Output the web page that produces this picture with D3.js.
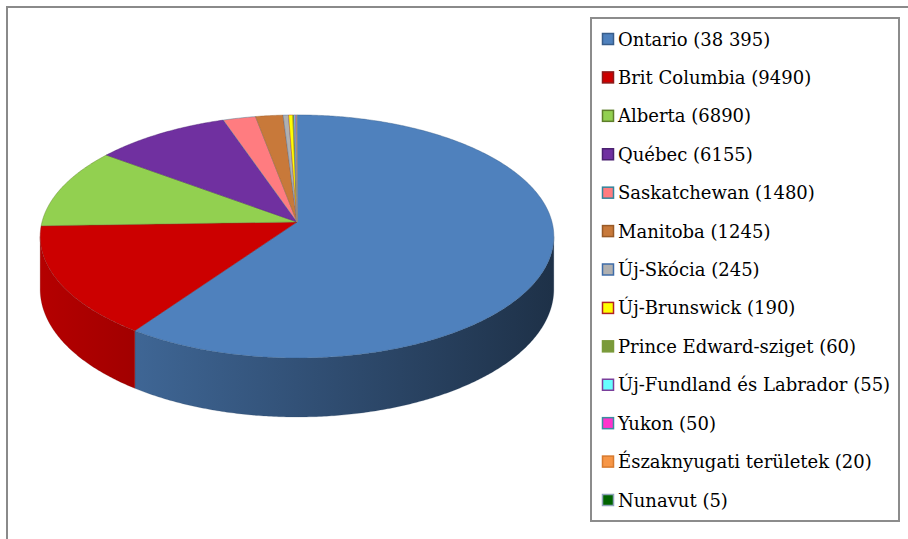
<!DOCTYPE html>
<html>
<head>
<meta charset="utf-8">
<script src="https://cdn.jsdelivr.net/npm/d3@7"></script>
<style>
  html, body { margin: 0; padding: 0; background: #fff; }
  svg { display: block; }
</style>
</head>
<body>
<div id="chart"></div>
<script>
(function () {

    // ── data ────────────────────────────────────────────────────────
    var PROVINCES = [
        "Ontario", "Brit Columbia", "Alberta", "Québec", "Saskatchewan",
        "Manitoba", "Új-Skócia", "Új-Brunswick", "Prince Edward-sziget",
        "Új-Fundland és Labrador", "Yukon", "Északnyugati területek", "Nunavut"
    ];
    var VALUES = [38395, 9490, 6890, 6155, 1480, 1245, 245, 190, 60, 55, 50, 20, 5];
    var FILLS = [
        "#4f81bd", "#cc0000", "#92d050", "#7030a0", "#ff7c80",
        "#c8793a", "#b0b0b0", "#ffff00", "#7a9a3a",
        "#66ffff", "#ff33cc", "#f79646", "#006400"
    ];
    var BORDERS = [
        "#385d8a", "#8b1a1a", "#5e7e2a", "#4b2170", "#31859c",
        "#985a27", "#3f6ca8", "#b22222", "#7a9a3a",
        "#7a3f9b", "#3b8da0", "#d77a2e", "#8fa3ba"
    ];

    var W = 908, H = 539;

    var svg = d3.select("#chart").append("svg")
        .attr("width", W).attr("height", H);

    var defs = svg.append("defs");

    // outer chart frame (runs off the right/bottom edges)
    svg.append("rect")
        .attr("x", 7).attr("y", 7)
        .attr("width", W + 20).attr("height", H + 20)
        .attr("fill", "#fff")
        .attr("stroke", "#8a8a8a").attr("stroke-width", 2);

    /* ── pie geometry (perspective tilted disc) ───────────────────── */
    var cx = 297, cy = 222;
    var Rx = 255, Ry = 119.8;
    var persp = 0.119;      // perspective strength
    var depth = 52;         // thickness of the disc

    function proj(theta, h) {
        var u = Math.sin(theta), v = -Math.cos(theta);
        var f = 1 / (1 - persp * v);
        return [cx + Rx * u * f, cy + (Ry * v + depth * h) * f];
    }

    function arcPoints(a0, a1, h) {
        var n = Math.max(2, Math.ceil((a1 - a0) / (Math.PI / 360)));
        var pts = [];
        for (var i = 0; i <= n; i++) pts.push(proj(a0 + (a1 - a0) * i / n, h));
        return pts;
    }

    var arcs = d3.pie().sort(null).value(function (d) { return d; })(VALUES);

    // side shading: darker toward the right
    function shade(c, k) {
        var r = d3.rgb(c);
        return d3.rgb(r.r * k, r.g * k, r.b * k).formatHex();
    }

    var gPie = svg.append("g");
    var line = d3.line();

    // the wall faces the viewer between the two silhouette angles
    var visA0 = Math.PI - Math.acos(persp),
        visA1 = Math.PI + Math.acos(persp);

    arcs.forEach(function (a, i) {
        var s = Math.max(a.startAngle, visA0);
        var e = Math.min(a.endAngle, visA1);
        if (e <= s) return;

        var gid = "side-" + i;
        var grad = defs.append("linearGradient")
            .attr("id", gid)
            .attr("gradientUnits", "userSpaceOnUse")
            .attr("x1", cx - Rx).attr("x2", cx + Rx)
            .attr("y1", 0).attr("y2", 0);
        [[0, 0.88], [0.5, 0.63], [1, 0.38]].forEach(function (st) {
            grad.append("stop")
                .attr("offset", st[0])
                .attr("stop-color", shade(FILLS[i], st[1]));
        });

        var pts = arcPoints(s, e, 0).concat(arcPoints(s, e, 1).reverse());
        gPie.append("path")
            .attr("d", line(pts) + "Z")
            .attr("fill", "url(#" + gid + ")")
            .attr("stroke", shade(FILLS[i], 0.5))
            .attr("stroke-width", 0.4)
            .attr("stroke-opacity", 0.5);
    });

    arcs.forEach(function (a, i) {
        var pts = [[cx, cy]].concat(arcPoints(a.startAngle, a.endAngle, 0));
        gPie.append("path")
            .attr("d", line(pts) + "Z")
            .attr("fill", FILLS[i])
            .attr("stroke", BORDERS[i])
            .attr("stroke-width", 0.7)
            .attr("stroke-opacity", 0.6)
            .attr("stroke-linejoin", "round");
    });

    /* ── legend ───────────────────────────────────────────────────── */
    var thousands = d3.formatLocale({
        decimal: ",", thousands: " ", grouping: [3], currency: ["", ""]
    }).format(",");
    function fmtVal(v) { return v >= 10000 ? thousands(v) : String(v); }

    svg.append("rect")
        .attr("x", 591).attr("y", 18)
        .attr("width", 308).attr("height", 503)
        .attr("fill", "#fff")
        .attr("stroke", "#8c8c8c").attr("stroke-width", 2);

    var rowY = d3.scalePoint()
        .domain(PROVINCES)
        .range([39, 500]);

    var legend = svg.append("g").attr("class", "legend");

    PROVINCES.forEach(function (p, i) {
        var y = rowY(p);
        legend.append("rect")
            .attr("x", 602.5).attr("y", y - 5.5)
            .attr("width", 11).attr("height", 11)
            .attr("fill", FILLS[i])
            .attr("stroke", BORDERS[i]).attr("stroke-width", 1.5);
        legend.append("text")
            .attr("x", 618).attr("y", y + 6.5)
            .attr("font-family", "'DejaVu Serif', serif")
            .attr("font-size", "18px")
            .attr("fill", "#000")
            .text(p + " (" + fmtVal(VALUES[i]) + ")");
    });

}());
</script>
</body>
</html>
